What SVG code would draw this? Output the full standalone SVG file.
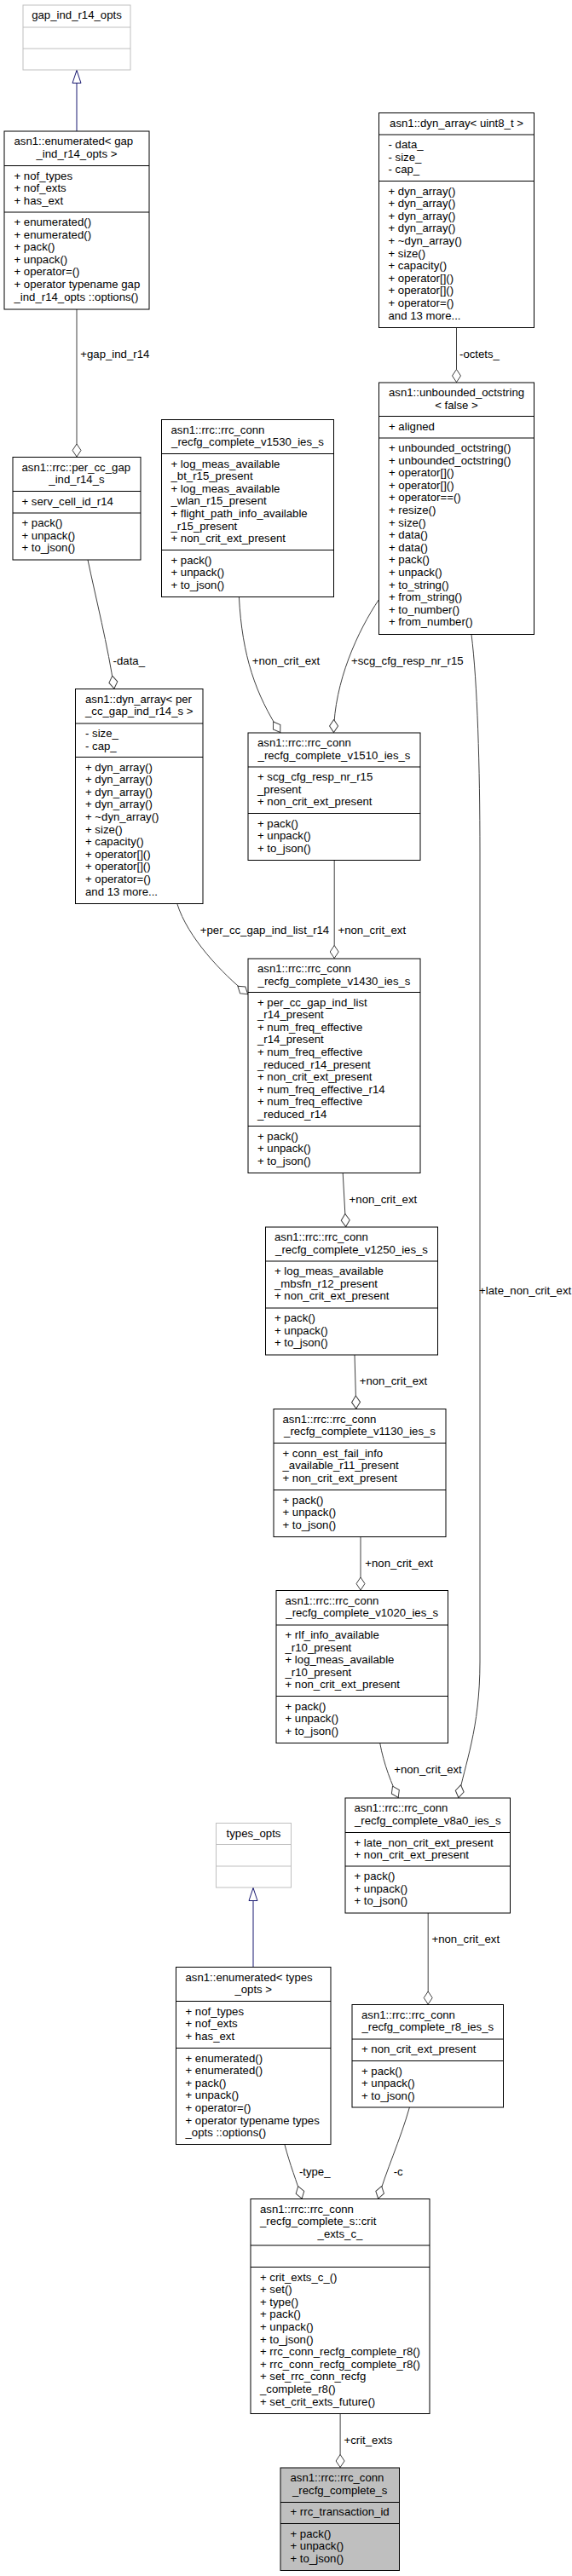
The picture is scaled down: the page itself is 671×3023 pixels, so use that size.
<svg xmlns="http://www.w3.org/2000/svg" width="671" height="3023" viewBox="0 0 671 3023">
<style>
text{font-family:"Liberation Sans",Arial,sans-serif;font-size:13.2px;fill:#000}
.c{text-anchor:middle}
.b{fill:#fff;stroke:#000;stroke-width:1}
.g{fill:#fff;stroke:#bfbfbf;stroke-width:1}
.m{fill:#bfbfbf;stroke:#000;stroke-width:1}
.d{stroke:#000;stroke-width:1}
.dg{stroke:#bfbfbf;stroke-width:1}
.e{fill:none;stroke:#404040;stroke-width:1;marker-end:url(#dia)}
.i{fill:none;stroke:#191970;stroke-width:1;marker-end:url(#tri)}
</style>
<defs>
<marker id="dia" markerUnits="userSpaceOnUse" markerWidth="17" markerHeight="12" refX="15.5" refY="6" orient="auto" viewBox="-0.5 0 17 12"><path d="M0,6 L7.5,1 L15,6 L7.5,11 Z" fill="#fff" stroke="#404040"/></marker>
<marker id="tri" markerUnits="userSpaceOnUse" markerWidth="17" markerHeight="12" refX="15.5" refY="6" orient="auto" viewBox="-0.5 0 17 12"><path d="M0,1 L15,6 L0,11 Z" fill="#fff" stroke="#191970"/></marker>
</defs>
<g id="connectors">
<path class="i" d="M90,154 L90,82"/>
<path class="e" d="M90,363 L90,536.5"/>
<path class="e" d="M103,657 C112,700 127,760 134,808.5"/>
<path class="e" d="M535.5,384.5 L535.5,449"/>
<path class="e" d="M280.4,700.5 C284,770 300,815 329,860"/>
<path class="e" d="M444.5,703.5 C420,740 392,800 391.5,860"/>
<path class="e" d="M553,744.5 C560,800 563,900 563,1000 L563,1950 C563,2030 545,2070 537.8,2110"/>
<path class="e" d="M392.2,1009.5 L392.2,1125"/>
<path class="e" d="M207.8,1060.5 C220,1100 260,1142 291,1167"/>
<path class="e" d="M402.2,1376.5 L405.7,1440"/>
<path class="e" d="M416,1590 L417.8,1653.5"/>
<path class="e" d="M423,1803.5 L423,1866.5"/>
<path class="e" d="M445.7,2045.5 C450,2070 460,2095 467.4,2110"/>
<path class="e" d="M502.2,2245 L502.2,2352.5"/>
<path class="i" d="M297,2308.5 L297,2215"/>
<path class="e" d="M333.9,2516.5 C340,2540 348,2560 354.3,2580.5"/>
<path class="e" d="M480.4,2473 C470,2510 452,2550 443.5,2580.5"/>
<path class="e" d="M399.1,2832.5 L399.1,2896"/>
<text x="94.3" y="420">+gap_ind_r14</text>
<text x="539" y="420">-octets_</text>
<text x="132.6" y="780">-data_</text>
<text x="295.7" y="780">+non_crit_ext</text>
<text x="412" y="780">+scg_cfg_resp_nr_r15</text>
<text x="234.8" y="1096">+per_cc_gap_ind_list_r14</text>
<text x="396.5" y="1096">+non_crit_ext</text>
<text x="409.6" y="1411.5">+non_crit_ext</text>
<text x="562" y="1519">+late_non_crit_ext</text>
<text x="421.7" y="1625">+non_crit_ext</text>
<text x="428.3" y="1839">+non_crit_ext</text>
<text x="462.2" y="2081">+non_crit_ext</text>
<text x="506.5" y="2280">+non_crit_ext</text>
<text x="350.9" y="2552.5">-type_</text>
<text x="461.7" y="2552.5">-c</text>
<text x="403.5" y="2868">+crit_exts</text>
</g>
<g id="gap_ind_r14_opts">
<rect class="g" x="27" y="6" width="126" height="76"/>
<line class="dg" x1="27" y1="32" x2="153" y2="32"/>
<line class="dg" x1="27" y1="57" x2="153" y2="57"/>
<text class="c" x="90" y="22">gap_ind_r14_opts</text>
</g>
<g id="enumerated_gap_ind_r14_opts">
<rect class="b" x="5" y="154" width="170" height="209"/>
<line class="d" x1="5" y1="194.5" x2="175" y2="194.5"/>
<line class="d" x1="5" y1="249" x2="175" y2="249"/>
<text x="16.5" y="170">asn1::enumerated&lt; gap</text>
<text class="c" x="90" y="184.6">_ind_r14_opts &gt;</text>
<text x="16.5" y="210.5">+ nof_types</text>
<text x="16.5" y="225.1">+ nof_exts</text>
<text x="16.5" y="239.7">+ has_ext</text>
<text x="16.5" y="265">+ enumerated()</text>
<text x="16.5" y="279.6">+ enumerated()</text>
<text x="16.5" y="294.2">+ pack()</text>
<text x="16.5" y="308.8">+ unpack()</text>
<text x="16.5" y="323.4">+ operator=()</text>
<text x="16.5" y="338">+ operator typename gap</text>
<text x="16.5" y="352.6">_ind_r14_opts ::options()</text>
</g>
<g id="dyn_array_uint8_t">
<rect class="b" x="444.5" y="132.5" width="182" height="252"/>
<line class="d" x1="444.5" y1="158" x2="626.5" y2="158"/>
<line class="d" x1="444.5" y1="212.5" x2="626.5" y2="212.5"/>
<text class="c" x="535.5" y="148.5">asn1::dyn_array&lt; uint8_t &gt;</text>
<text x="455.5" y="174">- data_</text>
<text x="455.5" y="188.6">- size_</text>
<text x="455.5" y="203.2">- cap_</text>
<text x="455.5" y="228.5">+ dyn_array()</text>
<text x="455.5" y="243.1">+ dyn_array()</text>
<text x="455.5" y="257.7">+ dyn_array()</text>
<text x="455.5" y="272.3">+ dyn_array()</text>
<text x="455.5" y="286.9">+ ~dyn_array()</text>
<text x="455.5" y="301.5">+ size()</text>
<text x="455.5" y="316.1">+ capacity()</text>
<text x="455.5" y="330.7">+ operator[]()</text>
<text x="455.5" y="345.3">+ operator[]()</text>
<text x="455.5" y="359.9">+ operator=()</text>
<text x="455.5" y="374.5">and 13 more...</text>
</g>
<g id="unbounded_octstring_false">
<rect class="b" x="444.5" y="449" width="182" height="295.5"/>
<line class="d" x1="444.5" y1="488.5" x2="626.5" y2="488.5"/>
<line class="d" x1="444.5" y1="514" x2="626.5" y2="514"/>
<text x="456" y="465">asn1::unbounded_octstring</text>
<text class="c" x="535.5" y="479.6">&lt; false &gt;</text>
<text x="456" y="504.5">+ aligned</text>
<text x="456" y="530">+ unbounded_octstring()</text>
<text x="456" y="544.6">+ unbounded_octstring()</text>
<text x="456" y="559.2">+ operator[]()</text>
<text x="456" y="573.8">+ operator[]()</text>
<text x="456" y="588.4">+ operator==()</text>
<text x="456" y="603">+ resize()</text>
<text x="456" y="617.6">+ size()</text>
<text x="456" y="632.2">+ data()</text>
<text x="456" y="646.8">+ data()</text>
<text x="456" y="661.4">+ pack()</text>
<text x="456" y="676">+ unpack()</text>
<text x="456" y="690.6">+ to_string()</text>
<text x="456" y="705.2">+ from_string()</text>
<text x="456" y="719.8">+ to_number()</text>
<text x="456" y="734.4">+ from_number()</text>
</g>
<g id="rrc_conn_recfg_complete_v1530_ies_s">
<rect class="b" x="189.5" y="492.5" width="202" height="208"/>
<line class="d" x1="189.5" y1="532.5" x2="391.5" y2="532.5"/>
<line class="d" x1="189.5" y1="645.5" x2="391.5" y2="645.5"/>
<text x="200.5" y="508.5">asn1::rrc::rrc_conn</text>
<text class="c" x="290.5" y="523.1">_recfg_complete_v1530_ies_s</text>
<text x="200.5" y="548.5">+ log_meas_available</text>
<text x="200.5" y="563.1">_bt_r15_present</text>
<text x="200.5" y="577.7">+ log_meas_available</text>
<text x="200.5" y="592.3">_wlan_r15_present</text>
<text x="200.5" y="606.9">+ flight_path_info_available</text>
<text x="200.5" y="621.5">_r15_present</text>
<text x="200.5" y="636.1">+ non_crit_ext_present</text>
<text x="200.5" y="661.5">+ pack()</text>
<text x="200.5" y="676.1">+ unpack()</text>
<text x="200.5" y="690.7">+ to_json()</text>
</g>
<g id="per_cc_gap_ind_r14_s">
<rect class="b" x="15" y="536.5" width="150" height="120.5"/>
<line class="d" x1="15" y1="576.5" x2="165" y2="576.5"/>
<line class="d" x1="15" y1="602" x2="165" y2="602"/>
<text x="25.5" y="552.5">asn1::rrc::per_cc_gap</text>
<text class="c" x="90" y="567.1">_ind_r14_s</text>
<text x="25.5" y="592.5">+ serv_cell_id_r14</text>
<text x="25.5" y="618">+ pack()</text>
<text x="25.5" y="632.6">+ unpack()</text>
<text x="25.5" y="647.2">+ to_json()</text>
</g>
<g id="dyn_array_per_cc_gap_ind_r14_s">
<rect class="b" x="88.5" y="808.5" width="149.5" height="252"/>
<line class="d" x1="88.5" y1="849" x2="238" y2="849"/>
<line class="d" x1="88.5" y1="888.5" x2="238" y2="888.5"/>
<text x="100" y="824.5">asn1::dyn_array&lt; per</text>
<text class="c" x="163.25" y="839.1">_cc_gap_ind_r14_s &gt;</text>
<text x="100" y="865">- size_</text>
<text x="100" y="879.6">- cap_</text>
<text x="100" y="904.5">+ dyn_array()</text>
<text x="100" y="919.1">+ dyn_array()</text>
<text x="100" y="933.7">+ dyn_array()</text>
<text x="100" y="948.3">+ dyn_array()</text>
<text x="100" y="962.9">+ ~dyn_array()</text>
<text x="100" y="977.5">+ size()</text>
<text x="100" y="992.1">+ capacity()</text>
<text x="100" y="1006.7">+ operator[]()</text>
<text x="100" y="1021.3">+ operator[]()</text>
<text x="100" y="1035.9">+ operator=()</text>
<text x="100" y="1050.5">and 13 more...</text>
</g>
<g id="rrc_conn_recfg_complete_v1510_ies_s">
<rect class="b" x="291" y="860" width="202" height="149.5"/>
<line class="d" x1="291" y1="900" x2="493" y2="900"/>
<line class="d" x1="291" y1="954.5" x2="493" y2="954.5"/>
<text x="302" y="876">asn1::rrc::rrc_conn</text>
<text class="c" x="392" y="890.6">_recfg_complete_v1510_ies_s</text>
<text x="302" y="916">+ scg_cfg_resp_nr_r15</text>
<text x="302" y="930.6">_present</text>
<text x="302" y="945.2">+ non_crit_ext_present</text>
<text x="302" y="970.5">+ pack()</text>
<text x="302" y="985.1">+ unpack()</text>
<text x="302" y="999.7">+ to_json()</text>
</g>
<g id="rrc_conn_recfg_complete_v1430_ies_s">
<rect class="b" x="291" y="1125" width="202" height="251.5"/>
<line class="d" x1="291" y1="1164.5" x2="493" y2="1164.5"/>
<line class="d" x1="291" y1="1321.5" x2="493" y2="1321.5"/>
<text x="302" y="1141">asn1::rrc::rrc_conn</text>
<text class="c" x="392" y="1155.6">_recfg_complete_v1430_ies_s</text>
<text x="302" y="1180.5">+ per_cc_gap_ind_list</text>
<text x="302" y="1195.1">_r14_present</text>
<text x="302" y="1209.7">+ num_freq_effective</text>
<text x="302" y="1224.3">_r14_present</text>
<text x="302" y="1238.9">+ num_freq_effective</text>
<text x="302" y="1253.5">_reduced_r14_present</text>
<text x="302" y="1268.1">+ non_crit_ext_present</text>
<text x="302" y="1282.7">+ num_freq_effective_r14</text>
<text x="302" y="1297.3">+ num_freq_effective</text>
<text x="302" y="1311.9">_reduced_r14</text>
<text x="302" y="1337.5">+ pack()</text>
<text x="302" y="1352.1">+ unpack()</text>
<text x="302" y="1366.7">+ to_json()</text>
</g>
<g id="rrc_conn_recfg_complete_v1250_ies_s">
<rect class="b" x="311.5" y="1440" width="202" height="150"/>
<line class="d" x1="311.5" y1="1480" x2="513.5" y2="1480"/>
<line class="d" x1="311.5" y1="1535" x2="513.5" y2="1535"/>
<text x="322" y="1456">asn1::rrc::rrc_conn</text>
<text class="c" x="412.5" y="1470.6">_recfg_complete_v1250_ies_s</text>
<text x="322" y="1496">+ log_meas_available</text>
<text x="322" y="1510.6">_mbsfn_r12_present</text>
<text x="322" y="1525.2">+ non_crit_ext_present</text>
<text x="322" y="1551">+ pack()</text>
<text x="322" y="1565.6">+ unpack()</text>
<text x="322" y="1580.2">+ to_json()</text>
</g>
<g id="rrc_conn_recfg_complete_v1130_ies_s">
<rect class="b" x="321" y="1653.5" width="202" height="150"/>
<line class="d" x1="321" y1="1693.5" x2="523" y2="1693.5"/>
<line class="d" x1="321" y1="1748.5" x2="523" y2="1748.5"/>
<text x="331.5" y="1669.5">asn1::rrc::rrc_conn</text>
<text class="c" x="422" y="1684.1">_recfg_complete_v1130_ies_s</text>
<text x="331.5" y="1709.5">+ conn_est_fail_info</text>
<text x="331.5" y="1724.1">_available_r11_present</text>
<text x="331.5" y="1738.7">+ non_crit_ext_present</text>
<text x="331.5" y="1764.5">+ pack()</text>
<text x="331.5" y="1779.1">+ unpack()</text>
<text x="331.5" y="1793.7">+ to_json()</text>
</g>
<g id="rrc_conn_recfg_complete_v1020_ies_s">
<rect class="b" x="324" y="1866.5" width="201.5" height="179"/>
<line class="d" x1="324" y1="1907" x2="525.5" y2="1907"/>
<line class="d" x1="324" y1="1990.5" x2="525.5" y2="1990.5"/>
<text x="334.5" y="1882.5">asn1::rrc::rrc_conn</text>
<text class="c" x="424.75" y="1897.1">_recfg_complete_v1020_ies_s</text>
<text x="334.5" y="1923">+ rlf_info_available</text>
<text x="334.5" y="1937.6">_r10_present</text>
<text x="334.5" y="1952.2">+ log_meas_available</text>
<text x="334.5" y="1966.8">_r10_present</text>
<text x="334.5" y="1981.4">+ non_crit_ext_present</text>
<text x="334.5" y="2006.5">+ pack()</text>
<text x="334.5" y="2021.1">+ unpack()</text>
<text x="334.5" y="2035.7">+ to_json()</text>
</g>
<g id="rrc_conn_recfg_complete_v8a0_ies_s">
<rect class="b" x="405" y="2110" width="193.5" height="135"/>
<line class="d" x1="405" y1="2150.5" x2="598.5" y2="2150.5"/>
<line class="d" x1="405" y1="2190" x2="598.5" y2="2190"/>
<text x="415.5" y="2126">asn1::rrc::rrc_conn</text>
<text class="c" x="501.75" y="2140.6">_recfg_complete_v8a0_ies_s</text>
<text x="415.5" y="2166.5">+ late_non_crit_ext_present</text>
<text x="415.5" y="2181.1">+ non_crit_ext_present</text>
<text x="415.5" y="2206">+ pack()</text>
<text x="415.5" y="2220.6">+ unpack()</text>
<text x="415.5" y="2235.2">+ to_json()</text>
</g>
<g id="types_opts">
<rect class="g" x="253.5" y="2139.5" width="88" height="75.5"/>
<line class="dg" x1="253.5" y1="2164.5" x2="341.5" y2="2164.5"/>
<line class="dg" x1="253.5" y1="2190" x2="341.5" y2="2190"/>
<text class="c" x="297.5" y="2155.5">types_opts</text>
</g>
<g id="enumerated_types_opts">
<rect class="b" x="206.5" y="2308.5" width="181.5" height="208"/>
<line class="d" x1="206.5" y1="2348.5" x2="388" y2="2348.5"/>
<line class="d" x1="206.5" y1="2403.5" x2="388" y2="2403.5"/>
<text x="217.5" y="2324.5">asn1::enumerated&lt; types</text>
<text class="c" x="297.25" y="2339.1">_opts &gt;</text>
<text x="217.5" y="2364.5">+ nof_types</text>
<text x="217.5" y="2379.1">+ nof_exts</text>
<text x="217.5" y="2393.7">+ has_ext</text>
<text x="217.5" y="2419.5">+ enumerated()</text>
<text x="217.5" y="2434.1">+ enumerated()</text>
<text x="217.5" y="2448.7">+ pack()</text>
<text x="217.5" y="2463.3">+ unpack()</text>
<text x="217.5" y="2477.9">+ operator=()</text>
<text x="217.5" y="2492.5">+ operator typename types</text>
<text x="217.5" y="2507.1">_opts ::options()</text>
</g>
<g id="rrc_conn_recfg_complete_r8_ies_s">
<rect class="b" x="413" y="2352.5" width="177.5" height="120.5"/>
<line class="d" x1="413" y1="2393" x2="590.5" y2="2393"/>
<line class="d" x1="413" y1="2418.5" x2="590.5" y2="2418.5"/>
<text x="424" y="2368.5">asn1::rrc::rrc_conn</text>
<text class="c" x="501.75" y="2383.1">_recfg_complete_r8_ies_s</text>
<text x="424" y="2409">+ non_crit_ext_present</text>
<text x="424" y="2434.5">+ pack()</text>
<text x="424" y="2449.1">+ unpack()</text>
<text x="424" y="2463.7">+ to_json()</text>
</g>
<g id="crit_exts_c_">
<rect class="b" x="294" y="2580.5" width="210" height="252"/>
<line class="d" x1="294" y1="2635" x2="504" y2="2635"/>
<line class="d" x1="294" y1="2660.5" x2="504" y2="2660.5"/>
<text x="305" y="2596.5">asn1::rrc::rrc_conn</text>
<text x="305" y="2611.1">_recfg_complete_s::crit</text>
<text class="c" x="399" y="2625.7">_exts_c_</text>
<text x="305" y="2676.5">+ crit_exts_c_()</text>
<text x="305" y="2691.1">+ set()</text>
<text x="305" y="2705.7">+ type()</text>
<text x="305" y="2720.3">+ pack()</text>
<text x="305" y="2734.9">+ unpack()</text>
<text x="305" y="2749.5">+ to_json()</text>
<text x="305" y="2764.1">+ rrc_conn_recfg_complete_r8()</text>
<text x="305" y="2778.7">+ rrc_conn_recfg_complete_r8()</text>
<text x="305" y="2793.3">+ set_rrc_conn_recfg</text>
<text x="305" y="2807.9">_complete_r8()</text>
<text x="305" y="2822.5">+ set_crit_exts_future()</text>
</g>
<g id="rrc_conn_recfg_complete_s">
<rect class="m" x="329" y="2896" width="139.5" height="120.5"/>
<line class="d" x1="329" y1="2936.5" x2="468.5" y2="2936.5"/>
<line class="d" x1="329" y1="2961.5" x2="468.5" y2="2961.5"/>
<text x="340.5" y="2912">asn1::rrc::rrc_conn</text>
<text class="c" x="398.75" y="2926.6">_recfg_complete_s</text>
<text x="340.5" y="2952">+ rrc_transaction_id</text>
<text x="340.5" y="2977.5">+ pack()</text>
<text x="340.5" y="2992.1">+ unpack()</text>
<text x="340.5" y="3006.7">+ to_json()</text>
</g>
</svg>
